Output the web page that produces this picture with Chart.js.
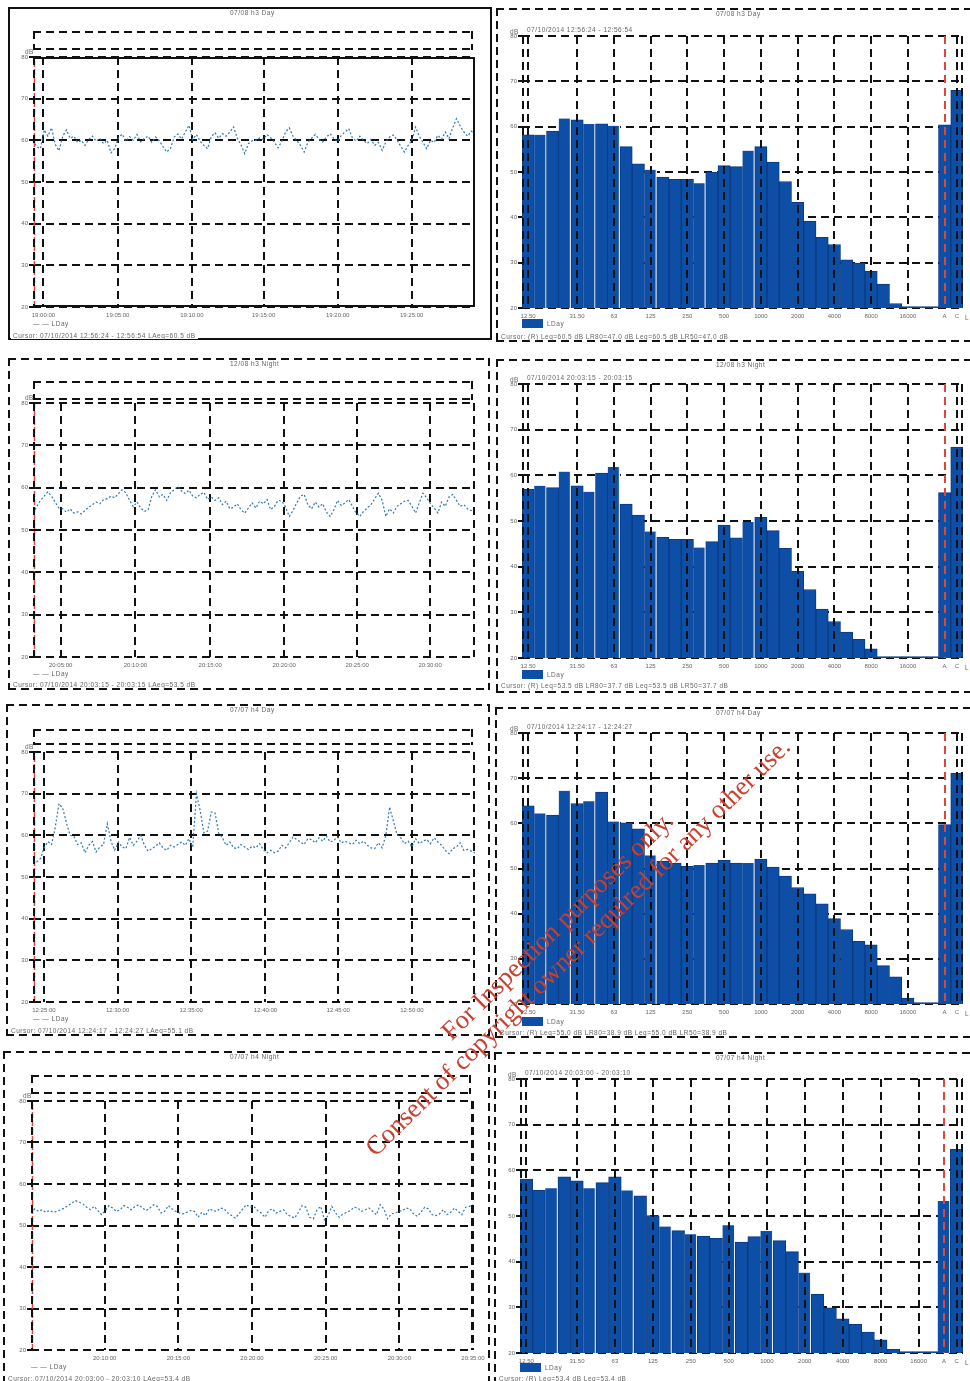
<!DOCTYPE html>
<html lang="en">
  <head>
    <meta charset="utf-8" />
    <title>Noise survey charts</title>
    <script src="https://cdn.jsdelivr.net/npm/chart.js@4"></script>
    <style>
      html, body { margin: 0; padding: 0; background: #fff; }
      body { position: relative; width: 970px; height: 1381px; overflow: hidden; }
      #scan { position: absolute; left: 0; top: 0; width: 970px; height: 1381px; filter: blur(0.5px); }
      canvas { position: absolute; }
      .txt { position: absolute; white-space: nowrap; font: 6.5px "Liberation Sans", sans-serif; letter-spacing: 0.5px; color: #666; line-height: 7px; }
      .txt.bg { background: #fff; padding: 0 2px; }
      .box { position: absolute; box-sizing: border-box;
        background:
          linear-gradient(90deg, #111 62%, transparent 0) top left / 13px 2px repeat-x,
          linear-gradient(90deg, #111 62%, transparent 0) bottom left / 13px 2px repeat-x,
          linear-gradient(#111 62%, transparent 0) top left / 2px 13px repeat-y,
          linear-gradient(#111 62%, transparent 0) top right / 2px 13px repeat-y; }
      .sides { position: absolute; box-sizing: border-box;
        background:
          linear-gradient(#111 62%, transparent 0) top left / 2px 13px repeat-y,
          linear-gradient(#111 62%, transparent 0) top right / 2px 13px repeat-y; }
      .vdash { position: absolute; z-index: 5; background: linear-gradient(#111 62%, transparent 0) top left / 2px 13px repeat-y; }
      .vdash.red { background: linear-gradient(#d9483b 62%, transparent 0) top left / 2px 13px repeat-y; }
      .solid { position: absolute; box-sizing: border-box; border: 2px solid #111; }
      .solid.open { border-left: 0; }
      .swatch { position: absolute; background: #0d4ea6; }
      .mark { position: absolute; white-space: nowrap; font-family: "Liberation Serif", serif;
        font-size: 26.5px; color: #c8402f; transform-origin: 0 100%; transform: rotate(-44.5deg); line-height: 28px; z-index: 9; }
    </style>
  </head>
  <body>
    <div id="scan"></div>
    <div class="mark" style="left: 455px; top: 1017px">For Inspection purposes only.</div>
    <div class="mark" style="left: 379px; top: 1133px">Consent of copyright owner required for any other use.</div>

    <script>
      // time history traces (dB), one value per 15 s
      const trace1 = [
        60.0,58.5,58.0,62.5,61.0,63.0,59.0,57.5,61.0,62.5,
        60.5,61.0,59.5,60.0,58.8,60.2,61.0,59.8,60.5,59.2,
        60.0,57.0,58.0,60.6,61.5,59.8,60.9,60.0,61.4,59.6,
        60.5,61.0,59.5,60.8,59.9,58.5,57.2,58.0,60.8,61.5,
        60.3,62.0,63.6,60.2,61.4,59.8,58.8,58.0,60.9,61.8,
        60.5,61.6,61.0,62.0,63.2,60.5,58.9,56.8,59.2,59.9,
        60.0,60.6,60.2,61.4,60.6,59.5,58.2,59.8,62.0,63.0,
        61.0,60.0,58.8,57.2,59.5,60.5,61.4,60.3,59.6,60.8,
        61.6,60.4,59.7,61.2,62.0,62.8,60.6,59.8,61.0,60.0,
        59.2,60.2,58.8,59.5,57.6,59.6,60.8,61.3,60.1,58.6,
        57.2,58.8,60.0,63.2,61.0,59.5,58.0,60.0,59.5,61.2,
        60.3,62.0,60.4,63.0,65.2,63.5,62.0,61.0,62.2,61.5,
      ];
      const trace2 = [
        54.0,55.5,57.0,58.0,59.0,58.0,56.5,55.2,55.0,54.2,
        55.0,54.0,54.3,53.8,54.6,55.4,56.0,56.6,56.2,57.2,
        57.4,58.0,57.6,58.6,59.5,58.8,57.0,55.5,56.6,55.2,
        54.4,54.8,58.0,59.5,57.8,58.4,57.0,58.8,59.5,60.3,
        59.2,58.6,59.4,58.0,57.6,58.4,58.9,57.2,57.8,57.0,
        57.6,56.0,56.8,55.0,55.4,56.2,54.8,54.0,55.2,56.4,
        55.2,56.8,56.2,57.2,54.8,55.6,57.0,56.8,55.4,53.2,
        54.6,56.4,58.0,58.4,56.0,55.0,56.6,55.4,56.2,54.2,
        53.2,54.8,57.0,55.8,56.4,57.2,55.6,54.0,53.2,54.4,
        55.2,56.0,57.4,58.7,57.0,53.2,55.0,54.0,55.6,56.2,
        56.8,57.0,55.6,54.0,56.4,58.7,57.6,56.2,55.2,54.0,
        56.6,55.6,57.8,58.4,57.0,55.6,56.0,55.0,54.6,54.2,
      ];
      const trace3 = [
        54.0,53.6,54.4,57.0,58.5,57.8,62.0,67.6,66.5,63.0,
        60.0,59.8,57.8,58.2,55.8,57.6,58.5,56.0,57.2,57.8,
        62.8,58.6,56.4,58.4,57.2,56.8,59.5,57.6,58.6,60.0,
        57.6,56.2,56.8,57.4,58.2,57.0,56.4,57.6,57.2,57.8,
        58.4,57.6,59.2,57.2,70.0,66.0,60.6,61.0,65.6,65.4,
        60.5,59.4,57.6,58.4,57.0,56.8,57.8,57.2,56.6,57.4,
        57.0,58.0,56.6,55.8,56.4,55.8,56.2,57.6,57.0,58.2,
        59.6,59.0,58.4,57.8,59.2,59.0,58.2,59.4,58.6,59.8,
        58.4,58.8,59.6,58.2,58.6,58.2,57.8,58.8,58.0,58.6,
        57.6,57.0,56.8,58.2,57.0,60.0,66.8,63.5,60.2,59.4,
        58.0,58.6,57.2,59.2,58.0,58.6,59.0,58.0,59.4,58.4,
        57.6,56.4,55.6,56.8,57.2,58.2,56.4,56.6,56.2,55.8,
      ];
      const trace4 = [
        53.0,54.0,53.4,53.8,53.2,53.6,53.2,53.4,53.8,54.2,
        54.8,55.4,56.0,55.6,55.2,54.4,53.8,54.6,53.6,52.6,
        53.6,54.8,54.2,53.4,53.8,54.8,54.4,53.8,54.6,55.0,
        54.2,53.6,54.2,55.0,54.6,53.0,53.4,54.8,54.0,53.4,
        53.0,52.8,53.2,53.6,53.4,52.0,53.2,52.4,54.0,53.6,
        53.4,54.2,54.0,53.0,52.4,51.8,52.8,54.0,55.0,54.4,
        54.6,53.6,53.0,52.0,53.6,54.0,53.0,53.4,53.8,52.6,
        52.2,51.8,53.2,54.8,54.4,52.0,51.6,53.8,54.6,51.4,
        52.4,54.6,53.0,52.0,52.8,53.2,53.6,54.4,54.2,53.4,
        53.8,54.2,53.4,52.6,55.0,54.0,51.6,52.8,53.0,53.4,
        53.6,54.2,54.0,52.8,52.2,53.2,54.4,54.0,52.6,52.4,
        52.8,53.8,52.6,53.2,54.2,53.4,52.6,54.4,54.6,55.0,
      ];

      // third octave spectra (dB), the last two values are A and C
      const bands1 = [58.2,58.2,59,61.8,61.5,60.6,60.6,60.2,55.6,51.8,50.5,48.9,48.4,48.4,47.5,50,51.4,51.2,54.7,55.6,52.2,47.9,43.3,39.2,35.6,34,30.6,29.9,28.1,25.3,21,20.3,20.3,20.3,60.4,68];
      const bands2 = [57,57.7,57.3,60.8,57.7,56.4,60.5,61.8,53.7,51.3,47.7,46.4,46,46,44.2,45.5,49.1,46.3,49.8,50.8,47.9,44,39,35,30.7,28,25.7,24.1,22,20.3,20.3,20.3,20.3,20.3,56.2,66.2];
      const bands3 = [63.9,62.2,61.8,67.2,64.4,64.9,66.9,60.4,60.1,58.8,52.9,51.6,51.2,50.5,50.8,51.2,51.8,51.2,51.2,52.1,50.3,48.3,45.8,44.4,42.2,38.9,36.5,33.9,33.1,28.5,26,21.3,20.3,20.3,59.7,71.1];
      const bands4 = [58.1,55.7,56.1,58.6,57.7,56.1,57.3,58.6,55.6,54.4,50.1,47.7,46.8,46,45.6,45.1,48,44.3,45.5,46.7,44.6,42.2,37.6,32.9,29.9,27.5,26.3,24.6,22.9,20.8,20.3,20.3,20.3,53.3,64.6];

      const bandLabels36 = ["12.50","","","","31.50","","","63","","","125","","","250","","","500","","","1000","","","2000","","","4000","","","8000","","","16000","","","A","C"];
      const bandLabels35 = ["12.50","","","","31.50","","","63","","","125","","","250","","","500","","","1000","","","2000","","","4000","","","8000","","","16000","","A","C"];

      // white slivers the scan leaves after these bars
      const gaps1 = [1,3,5,7,10,14,18];
      const gaps4 = [2,5,8,11,13,16,19,22,33];

      const yTicks = [20,30,40,50,60,70,80];

      const timeLabels1 = ["19:00:00","19:05:00","19:10:00","19:15:00","19:20:00","19:25:00"];
      const timeLabels2 = ["20:05:00","20:10:00","20:15:00","20:20:00","20:25:00","20:30:00"];
      const timeLabels3 = ["12:25:00","12:30:00","12:35:00","12:40:00","12:45:00","12:50:00"];
      const timeLabels4 = ["20:10:00","20:15:00","20:20:00","20:25:00","20:30:00","20:35:00"];

      // minutes from the start of the run to each time label
      const tickMinutes1 = [0.71,5.75,10.78,15.65,20.68,25.7];
      const tickMinutes2 = [1.88,6.95,12.03,17.05,22,26.95];
      const tickMinutes3 = [0.74,5.74,10.74,15.78,20.72,25.72];
      const tickMinutes4 = [5,10,15,20,25,30];

      const RUN_MINUTES = 30;
      const CURSOR_MINUTE = 0.1;
      const AXIS_W = 24;
      const AXIS_H = 16;
      const PAD_R = 30;
      const INK = "#111";
      const RED = "#d9483b";
      const DASH = [8, 5];
      const scan = document.getElementById("scan");

      const addEl = (cls, x, y, w, h, text) => {
        const el = document.createElement("div");
        el.className = cls;
        el.style.left = x + "px";
        el.style.top = y + "px";
        if (w) el.style.width = w + "px";
        if (h) el.style.height = h + "px";
        if (text) el.textContent = text;
        scan.appendChild(el);
        return el;
      };

      const addCanvas = (x, y, w, h) => {
        const c = document.createElement("canvas");
        c.width = w + AXIS_W + PAD_R;
        c.height = h + 6 + AXIS_H;
        c.style.left = x - AXIS_W + "px";
        c.style.top = y - 6 + "px";
        scan.appendChild(c);
        return c;
      };

      const tickFont = { family: "'Liberation Sans'", size: 6 };

      const yAxis = () => ({
        min: 20,
        max: 80,
        afterFit: (s) => { s.width = AXIS_W; },
        afterBuildTicks: (s) => { s.ticks = yTicks.map((v) => ({ value: v })); },
        ticks: { color: "#666", font: tickFont, padding: 1 },
        grid: { color: INK, lineWidth: 2, tickLength: 4, z: 0 },
        border: { display: false, dash: DASH },
      });

      function drawTrace(p) {
        const points = p.values.map((v, i) => ({ x: (i * RUN_MINUTES) / (p.values.length - 1), y: v }));
        new Chart(addCanvas(p.x, p.y, p.w, p.h), {
          type: "line",
          data: {
            datasets: [
              { data: points, borderColor: "#2f78b5", borderWidth: 1.2, borderDash: [2, 2], pointRadius: 0, tension: 0 },
              { data: [{ x: CURSOR_MINUTE, y: 20 }, { x: CURSOR_MINUTE, y: 80 }], borderColor: RED, borderWidth: 1.5, borderDash: [6, 2], pointRadius: 0 },
            ],
          },
          options: {
            responsive: false,
            animation: false,
            layout: { padding: { top: 6, right: PAD_R }, autoPadding: false },
            plugins: { legend: { display: false }, title: { display: false }, tooltip: { enabled: false } },
            scales: {
              x: {
                type: "linear",
                min: 0,
                max: RUN_MINUTES,
                afterFit: (s) => { s.height = AXIS_H; },
                afterBuildTicks: (s) => { s.ticks = p.ticks.map((v) => ({ value: v })); },
                ticks: {
                  color: "#666", font: tickFont, padding: 5, autoSkip: false, maxRotation: 0,
                  callback: (value, i) => p.labels[i],
                },
                grid: { color: INK, lineWidth: 2, drawTicks: false, z: 0 },
                border: { display: false, dash: DASH },
              },
              y: yAxis(),
            },
          },
        });
        if (p.solid) addEl("solid open", p.x, p.y, p.w, p.h);
        addEl("sides", p.x, p.y, p.solid ? 2 : p.w, p.h);
        addEl("box", p.x, p.y - p.boxTop, p.w - 2, p.boxH);
        addEl("txt", p.x - 8, p.y - 9, 0, 0, "dB");
        addEl("txt", p.x, p.y + p.h + 13, 0, 0, "— — LDay");
      }

      function drawBands(p) {
        const hasGap = (i) => p.gaps.includes(i);
        const chart = new Chart(addCanvas(p.x, p.y, p.w, p.h), {
          type: "bar",
          data: {
            labels: p.labels,
            datasets: [
              {
                data: p.values,
                backgroundColor: "#0d4ea6",
                borderColor: (c) => (hasGap(c.dataIndex) ? "#f4f4ee" : "#0a3a80"),
                borderWidth: (c) => (hasGap(c.dataIndex) ? { right: 1.5 } : 1),
                borderSkipped: false,
                barPercentage: 1,
                categoryPercentage: 1,
              },
            ],
          },
          options: {
            responsive: false,
            animation: false,
            layout: { padding: { top: 6, right: PAD_R }, autoPadding: false },
            plugins: { legend: { display: false }, title: { display: false }, tooltip: { enabled: false } },
            scales: {
              x: {
                afterFit: (s) => { s.height = AXIS_H; },
                ticks: { color: "#666", font: tickFont, padding: 5, autoSkip: false, maxRotation: 0 },
                grid: { display: false, drawTicks: false },
                border: { display: false },
              },
              y: yAxis(),
            },
          },
        });
        // frequency grid sits over the bars, placed from the chart's own x scale
        p.labels.forEach((label, i) => {
          if (!label) return;
          const left = p.x - AXIS_W + chart.scales.x.getPixelForValue(i) - 1;
          addEl(label === "A" ? "vdash red" : "vdash", left, p.y, 2, p.h);
        });
        addEl("sides", p.x, p.y, p.w, p.h);
        addEl("txt", p.x - 12, p.y - 8, 0, 0, "dB");
        addEl("txt", p.x + 5, p.y - 10, 0, 0, p.stamp);
        addEl("txt", p.x + p.w + 2, p.y + p.h + 6, 0, 0, "L");
        addEl("swatch", p.x, p.y + p.h + p.swatch, 21, 9);
        addEl("txt", p.x + 25, p.y + p.h + p.swatch + 1, 0, 0, "LDay");
      }

      // frames of the scanned sheets, drawn first so captions sit on top
      function drawFrame(x, y, w, h, solid, title, cursor, cursorY) {
        addEl(solid ? "solid" : "box", x, y, w, h);
        addEl("txt bg", x < 490 ? 228 : 714, y + 2, 0, 0, title);
        addEl("txt bg", x + 3, cursorY, 0, 0, cursor);
      }

      drawFrame(8, 7, 484, 333, true, "07/08 h3 Day", "Cursor: 07/10/2014 12:56:24 - 12:56:54  LAeq=60.5 dB", 332);
      drawFrame(8, 358, 482, 332, false, "12/08 h3 Night", "Cursor: 07/10/2014 20:03:15 - 20:03:15  LAeq=53.5 dB", 681);
      drawFrame(6, 704, 484, 332, false, "07/07 h4 Day", "Cursor: 07/10/2014 12:24:17 - 12:24:27  LAeq=55.1 dB", 1027);
      drawFrame(3, 1051, 487, 340, false, "07/07 h4 Night", "Cursor: 07/10/2014 20:03:00 - 20:03:10  LAeq=53.4 dB", 1375);

      drawFrame(496, 8, 490, 334, false, "07/08 h3 Day", "Cursor: (R)  Leq=60.5 dB  LR80=47.0 dB  Leq=60.5 dB  LR50=47.0 dB", 333);
      drawFrame(496, 359, 490, 334, false, "12/08 h3 Night", "Cursor: (R)  Leq=53.5 dB  LR80=37.7 dB  Leq=53.5 dB  LR50=37.7 dB", 682);
      drawFrame(495, 707, 490, 331, false, "07/07 h4 Day", "Cursor: (R)  Leq=55.0 dB  LR80=38.9 dB  Leq=55.0 dB  LR50=38.9 dB", 1029);
      drawFrame(494, 1052, 490, 340, false, "07/07 h4 Night", "Cursor: (R)  Leq=53.4 dB  Leq=53.4 dB", 1375);

      drawTrace({ values: trace1, ticks: tickMinutes1, labels: timeLabels1, x: 33, y: 57, w: 442, h: 250, solid: true, boxTop: 26, boxH: 19 });
      drawTrace({ values: trace2, ticks: tickMinutes2, labels: timeLabels2, x: 33, y: 403, w: 442, h: 254, boxTop: 22, boxH: 19 });
      drawTrace({ values: trace3, ticks: tickMinutes3, labels: timeLabels3, x: 33, y: 752, w: 442, h: 250, boxTop: 23, boxH: 16 });
      drawTrace({ values: trace4, ticks: tickMinutes4, labels: timeLabels4, x: 31, y: 1101, w: 442, h: 249, boxTop: 26, boxH: 19 });

      drawBands({ values: bands1, labels: bandLabels36, gaps: gaps1, x: 522, y: 36, w: 441, h: 272, swatch: 11, stamp: "07/10/2014 12:56:24 - 12:56:54" });
      drawBands({ values: bands2, labels: bandLabels36, gaps: gaps1, x: 522, y: 384, w: 441, h: 274, swatch: 12, stamp: "07/10/2014 20:03:15 - 20:03:15" });
      drawBands({ values: bands3, labels: bandLabels36, gaps: gaps1, x: 522, y: 733, w: 441, h: 271, swatch: 13, stamp: "07/10/2014 12:24:17 - 12:24:27" });
      drawBands({ values: bands4, labels: bandLabels35, gaps: gaps4, x: 520, y: 1079, w: 443, h: 274, swatch: 10, stamp: "07/10/2014 20:03:00 - 20:03:10" });
    </script>
  </body>
</html>
